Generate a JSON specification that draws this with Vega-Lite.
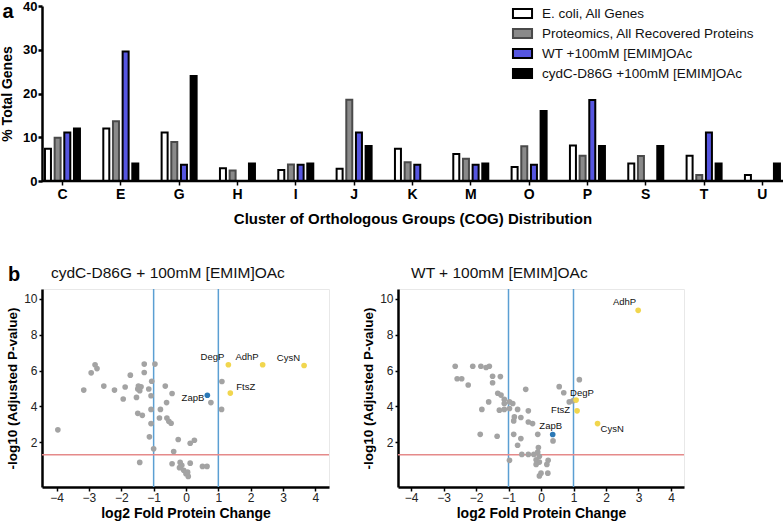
{
  "$schema": "https://vega.github.io/schema/vega-lite/v6.json",
  "padding": {"left": 0, "top": 0, "right": 0, "bottom": 0},
  "background": "white",
  "config": {
    "font": "Liberation Sans",
    "axis": {"grid": false},
    "axisQuantitative": {"labelOverlap": false},
    "view": {"stroke": null}
  },
  "datasets": {
    "cog": [
      {"cog": "C", "series": "E. coli, All Genes", "pct": 7.35},
      {"cog": "C", "series": "Proteomics, All Recovered Proteins", "pct": 9.9},
      {"cog": "C", "series": "WT +100mM [EMIM]OAc", "pct": 11.1},
      {"cog": "C", "series": "cydC-D86G +100mM [EMIM]OAc", "pct": 12},
      {"cog": "E", "series": "E. coli, All Genes", "pct": 12.0},
      {"cog": "E", "series": "Proteomics, All Recovered Proteins", "pct": 13.65},
      {"cog": "E", "series": "WT +100mM [EMIM]OAc", "pct": 29.6},
      {"cog": "E", "series": "cydC-D86G +100mM [EMIM]OAc", "pct": 4},
      {"cog": "G", "series": "E. coli, All Genes", "pct": 11.1},
      {"cog": "G", "series": "Proteomics, All Recovered Proteins", "pct": 8.9},
      {"cog": "G", "series": "WT +100mM [EMIM]OAc", "pct": 3.7},
      {"cog": "G", "series": "cydC-D86G +100mM [EMIM]OAc", "pct": 24},
      {"cog": "H", "series": "E. coli, All Genes", "pct": 2.9},
      {"cog": "H", "series": "Proteomics, All Recovered Proteins", "pct": 2.4},
      {"cog": "H", "series": "cydC-D86G +100mM [EMIM]OAc", "pct": 4},
      {"cog": "I", "series": "E. coli, All Genes", "pct": 2.5},
      {"cog": "I", "series": "Proteomics, All Recovered Proteins", "pct": 3.8},
      {"cog": "I", "series": "WT +100mM [EMIM]OAc", "pct": 3.7},
      {"cog": "I", "series": "cydC-D86G +100mM [EMIM]OAc", "pct": 4},
      {"cog": "J", "series": "E. coli, All Genes", "pct": 2.8},
      {"cog": "J", "series": "Proteomics, All Recovered Proteins", "pct": 18.6},
      {"cog": "J", "series": "WT +100mM [EMIM]OAc", "pct": 11.1},
      {"cog": "J", "series": "cydC-D86G +100mM [EMIM]OAc", "pct": 8},
      {"cog": "K", "series": "E. coli, All Genes", "pct": 7.35},
      {"cog": "K", "series": "Proteomics, All Recovered Proteins", "pct": 4.3},
      {"cog": "K", "series": "WT +100mM [EMIM]OAc", "pct": 3.7},
      {"cog": "M", "series": "E. coli, All Genes", "pct": 6.2},
      {"cog": "M", "series": "Proteomics, All Recovered Proteins", "pct": 5.1},
      {"cog": "M", "series": "WT +100mM [EMIM]OAc", "pct": 3.7},
      {"cog": "M", "series": "cydC-D86G +100mM [EMIM]OAc", "pct": 4},
      {"cog": "O", "series": "E. coli, All Genes", "pct": 3.2},
      {"cog": "O", "series": "Proteomics, All Recovered Proteins", "pct": 7.95},
      {"cog": "O", "series": "WT +100mM [EMIM]OAc", "pct": 3.7},
      {"cog": "O", "series": "cydC-D86G +100mM [EMIM]OAc", "pct": 16},
      {"cog": "P", "series": "E. coli, All Genes", "pct": 8.1},
      {"cog": "P", "series": "Proteomics, All Recovered Proteins", "pct": 5.8},
      {"cog": "P", "series": "WT +100mM [EMIM]OAc", "pct": 18.5},
      {"cog": "P", "series": "cydC-D86G +100mM [EMIM]OAc", "pct": 8},
      {"cog": "S", "series": "E. coli, All Genes", "pct": 4.0},
      {"cog": "S", "series": "Proteomics, All Recovered Proteins", "pct": 5.7},
      {"cog": "S", "series": "cydC-D86G +100mM [EMIM]OAc", "pct": 8},
      {"cog": "T", "series": "E. coli, All Genes", "pct": 5.8},
      {"cog": "T", "series": "Proteomics, All Recovered Proteins", "pct": 1.4},
      {"cog": "T", "series": "WT +100mM [EMIM]OAc", "pct": 11.1},
      {"cog": "T", "series": "cydC-D86G +100mM [EMIM]OAc", "pct": 4},
      {"cog": "U", "series": "E. coli, All Genes", "pct": 1.4},
      {"cog": "U", "series": "cydC-D86G +100mM [EMIM]OAc", "pct": 4}
    ],
    "volcano": [
      {"panel": "cydC", "group": "other", "lfc": -2.81, "nlp": 6.32},
      {"panel": "cydC", "group": "other", "lfc": -2.75, "nlp": 6.11},
      {"panel": "cydC", "group": "other", "lfc": -2.93, "nlp": 5.87},
      {"panel": "cydC", "group": "other", "lfc": -1.29, "nlp": 6.36},
      {"panel": "cydC", "group": "other", "lfc": -0.96, "nlp": 6.36},
      {"panel": "cydC", "group": "other", "lfc": -1.72, "nlp": 5.74},
      {"panel": "cydC", "group": "other", "lfc": -1.29, "nlp": 5.89},
      {"panel": "cydC", "group": "other", "lfc": -1.06, "nlp": 5.4},
      {"panel": "cydC", "group": "other", "lfc": -3.16, "nlp": 4.91},
      {"panel": "cydC", "group": "other", "lfc": -2.54, "nlp": 5.13},
      {"panel": "cydC", "group": "other", "lfc": -2.21, "nlp": 4.91},
      {"panel": "cydC", "group": "other", "lfc": -1.88, "nlp": 5.08},
      {"panel": "cydC", "group": "other", "lfc": -1.47, "nlp": 5.13},
      {"panel": "cydC", "group": "other", "lfc": -1.39, "nlp": 5.09},
      {"panel": "cydC", "group": "other", "lfc": -1.49, "nlp": 4.97},
      {"panel": "cydC", "group": "other", "lfc": -1.43, "nlp": 4.87},
      {"panel": "cydC", "group": "other", "lfc": -1.15, "nlp": 4.97},
      {"panel": "cydC", "group": "other", "lfc": -1.08, "nlp": 4.59},
      {"panel": "cydC", "group": "other", "lfc": -1.94, "nlp": 4.41},
      {"panel": "cydC", "group": "other", "lfc": -1.53, "nlp": 4.5},
      {"panel": "cydC", "group": "other", "lfc": -0.64, "nlp": 5.13},
      {"panel": "cydC", "group": "other", "lfc": -0.43, "nlp": 4.72},
      {"panel": "cydC", "group": "other", "lfc": -0.6, "nlp": 4.21},
      {"panel": "cydC", "group": "other", "lfc": 0.77, "nlp": 4.21},
      {"panel": "cydC", "group": "other", "lfc": 1.11, "nlp": 5.39},
      {"panel": "cydC", "group": "other", "lfc": 1.1, "nlp": 3.83},
      {"panel": "cydC", "group": "other", "lfc": -1.49, "nlp": 3.61},
      {"panel": "cydC", "group": "other", "lfc": -1.35, "nlp": 3.5},
      {"panel": "cydC", "group": "other", "lfc": -1.08, "nlp": 3.83},
      {"panel": "cydC", "group": "other", "lfc": -0.79, "nlp": 3.83},
      {"panel": "cydC", "group": "other", "lfc": -0.82, "nlp": 3.35},
      {"panel": "cydC", "group": "other", "lfc": -0.59, "nlp": 3.35},
      {"panel": "cydC", "group": "other", "lfc": -0.53, "nlp": 3.17},
      {"panel": "cydC", "group": "other", "lfc": -0.46, "nlp": 3.06},
      {"panel": "cydC", "group": "other", "lfc": -1.08, "nlp": 3.04},
      {"panel": "cydC", "group": "other", "lfc": -3.96, "nlp": 2.69},
      {"panel": "cydC", "group": "other", "lfc": -1.13, "nlp": 2.3},
      {"panel": "cydC", "group": "other", "lfc": -0.24, "nlp": 2.15},
      {"panel": "cydC", "group": "other", "lfc": 0.13, "nlp": 1.94},
      {"panel": "cydC", "group": "other", "lfc": 0.26, "nlp": 2.11},
      {"panel": "cydC", "group": "other", "lfc": -1.0, "nlp": 1.63},
      {"panel": "cydC", "group": "other", "lfc": -0.38, "nlp": 1.48},
      {"panel": "cydC", "group": "other", "lfc": -1.43, "nlp": 0.87},
      {"panel": "cydC", "group": "other", "lfc": -0.43, "nlp": 0.8},
      {"panel": "cydC", "group": "other", "lfc": -0.18, "nlp": 0.87},
      {"panel": "cydC", "group": "other", "lfc": -0.13, "nlp": 0.71},
      {"panel": "cydC", "group": "other", "lfc": -0.2, "nlp": 0.58},
      {"panel": "cydC", "group": "other", "lfc": -0.07, "nlp": 0.43},
      {"panel": "cydC", "group": "other", "lfc": 0.0, "nlp": 0.24},
      {"panel": "cydC", "group": "other", "lfc": 0.07, "nlp": 0.09},
      {"panel": "cydC", "group": "other", "lfc": 0.05, "nlp": 0.33},
      {"panel": "cydC", "group": "other", "lfc": 0.13, "nlp": 0.83},
      {"panel": "cydC", "group": "other", "lfc": 0.51, "nlp": 0.65},
      {"panel": "cydC", "group": "other", "lfc": 0.65, "nlp": 0.65},
      {"panel": "cydC", "group": "highlight", "protein": "DegP", "lfc": 1.31, "nlp": 6.32},
      {"panel": "cydC", "group": "highlight", "protein": "AdhP", "lfc": 2.37, "nlp": 6.32},
      {"panel": "cydC", "group": "highlight", "protein": "CysN", "lfc": 3.65, "nlp": 6.28},
      {"panel": "cydC", "group": "highlight", "protein": "FtsZ", "lfc": 1.37, "nlp": 4.74},
      {"panel": "cydC", "group": "reference", "protein": "ZapB", "lfc": 0.66, "nlp": 4.62},
      {"panel": "WT", "group": "other", "lfc": -2.64, "nlp": 6.24},
      {"panel": "WT", "group": "other", "lfc": -2.1, "nlp": 6.24},
      {"panel": "WT", "group": "other", "lfc": -1.85, "nlp": 6.24},
      {"panel": "WT", "group": "other", "lfc": -1.69, "nlp": 6.17},
      {"panel": "WT", "group": "other", "lfc": -1.59, "nlp": 6.24},
      {"panel": "WT", "group": "other", "lfc": -2.58, "nlp": 5.54},
      {"panel": "WT", "group": "other", "lfc": -2.44, "nlp": 5.54},
      {"panel": "WT", "group": "other", "lfc": -2.24, "nlp": 5.19},
      {"panel": "WT", "group": "other", "lfc": -1.49, "nlp": 5.68},
      {"panel": "WT", "group": "other", "lfc": -1.25, "nlp": 5.66},
      {"panel": "WT", "group": "other", "lfc": -1.49, "nlp": 5.32},
      {"panel": "WT", "group": "other", "lfc": -0.47, "nlp": 4.95},
      {"panel": "WT", "group": "other", "lfc": -1.33, "nlp": 4.73},
      {"panel": "WT", "group": "other", "lfc": -1.23, "nlp": 4.63},
      {"panel": "WT", "group": "other", "lfc": -1.13, "nlp": 4.39},
      {"panel": "WT", "group": "other", "lfc": -1.61, "nlp": 4.25},
      {"panel": "WT", "group": "other", "lfc": -1.13, "nlp": 4.16},
      {"panel": "WT", "group": "other", "lfc": -0.97, "nlp": 4.25},
      {"panel": "WT", "group": "other", "lfc": -0.87, "nlp": 4.16},
      {"panel": "WT", "group": "other", "lfc": -1.28, "nlp": 3.79},
      {"panel": "WT", "group": "other", "lfc": -1.13, "nlp": 3.83},
      {"panel": "WT", "group": "other", "lfc": -0.97, "nlp": 3.88},
      {"panel": "WT", "group": "other", "lfc": -0.72, "nlp": 3.83},
      {"panel": "WT", "group": "other", "lfc": -0.39, "nlp": 3.75},
      {"panel": "WT", "group": "other", "lfc": -1.82, "nlp": 3.83},
      {"panel": "WT", "group": "other", "lfc": -0.82, "nlp": 3.41},
      {"panel": "WT", "group": "other", "lfc": -0.62, "nlp": 3.38},
      {"panel": "WT", "group": "other", "lfc": -0.84, "nlp": 3.19},
      {"panel": "WT", "group": "other", "lfc": -0.39, "nlp": 3.13},
      {"panel": "WT", "group": "other", "lfc": -0.26, "nlp": 3.04},
      {"panel": "WT", "group": "other", "lfc": 0.56, "nlp": 5.1},
      {"panel": "WT", "group": "other", "lfc": 0.7, "nlp": 4.76},
      {"panel": "WT", "group": "other", "lfc": 1.18, "nlp": 5.49},
      {"panel": "WT", "group": "other", "lfc": 0.87, "nlp": 4.25},
      {"panel": "WT", "group": "other", "lfc": 0.98, "nlp": 4.31},
      {"panel": "WT", "group": "other", "lfc": -1.87, "nlp": 2.44},
      {"panel": "WT", "group": "other", "lfc": -1.35, "nlp": 2.33},
      {"panel": "WT", "group": "other", "lfc": -0.84, "nlp": 2.44},
      {"panel": "WT", "group": "other", "lfc": -0.62, "nlp": 2.2},
      {"panel": "WT", "group": "other", "lfc": -0.72, "nlp": 1.83},
      {"panel": "WT", "group": "other", "lfc": -0.1, "nlp": 2.44},
      {"panel": "WT", "group": "other", "lfc": -0.08, "nlp": 1.7},
      {"panel": "WT", "group": "other", "lfc": -0.59, "nlp": 1.32},
      {"panel": "WT", "group": "other", "lfc": -0.39, "nlp": 1.32},
      {"panel": "WT", "group": "other", "lfc": -0.22, "nlp": 1.32},
      {"panel": "WT", "group": "other", "lfc": -0.1, "nlp": 1.45},
      {"panel": "WT", "group": "other", "lfc": -0.05, "nlp": 1.21},
      {"panel": "WT", "group": "other", "lfc": -0.97, "nlp": 0.99},
      {"panel": "WT", "group": "other", "lfc": -0.15, "nlp": 1.02},
      {"panel": "WT", "group": "other", "lfc": -0.05, "nlp": 0.89},
      {"panel": "WT", "group": "other", "lfc": -0.15, "nlp": 0.76},
      {"panel": "WT", "group": "other", "lfc": 0.22, "nlp": 0.99},
      {"panel": "WT", "group": "other", "lfc": 0.18, "nlp": 0.76},
      {"panel": "WT", "group": "other", "lfc": 0.0, "nlp": 0.27},
      {"panel": "WT", "group": "other", "lfc": 0.21, "nlp": 0.27},
      {"panel": "WT", "group": "other", "lfc": 0.37, "nlp": 2.07},
      {"panel": "WT", "group": "other", "lfc": -0.05, "nlp": 0.12},
      {"panel": "WT", "group": "highlight", "protein": "AdhP", "lfc": 2.99, "nlp": 9.36},
      {"panel": "WT", "group": "highlight", "protein": "DegP", "lfc": 1.08, "nlp": 4.35},
      {"panel": "WT", "group": "highlight", "protein": "FtsZ", "lfc": 1.11, "nlp": 3.75},
      {"panel": "WT", "group": "highlight", "protein": "CysN", "lfc": 1.74, "nlp": 3.04},
      {"panel": "WT", "group": "reference", "protein": "ZapB", "lfc": 0.36, "nlp": 2.43}
    ],
    "lfcCut": [{"lfc": -1}, {"lfc": 1}],
    "pCut": [{"nlp": 1.3}]
  },
  "bounds": "flush",
  "spacing": 108,
  "vconcat": [
    {
      "width": 741,
      "height": 175,
      "title": {"text": "a", "orient": "left", "anchor": "end", "angle": 0, "align": "left", "baseline": "top", "fontSize": 20, "fontWeight": "bold", "offset": -13, "dy": 2, "color": "black"},
      "data": {"name": "cog"},
      "layer": [
        {
          "mark": {"type": "bar", "strokeWidth": 2},
          "encoding": {
            "x": {
              "field": "cog", "type": "nominal", "sort": null,
              "scale": {"range": [-8.7, 749.6], "paddingInner": 0.4, "paddingOuter": 0.2},
              "axis": {"title": "Cluster of Orthologous Groups (COG) Distribution", "labelAngle": 0, "domain": false, "ticks": true, "tickSize": 4, "tickWidth": 1.5, "tickColor": "black", "labelFontSize": 14, "labelFontWeight": "bold", "labelColor": "black", "labelPadding": 2, "titleFontSize": 15, "titleFontWeight": "bold", "titleColor": "black", "titlePadding": 10}
            },
            "xOffset": {
              "field": "series", "type": "nominal",
              "sort": ["E. coli, All Genes", "Proteomics, All Recovered Proteins", "WT +100mM [EMIM]OAc", "cydC-D86G +100mM [EMIM]OAc"],
              "scale": {"paddingInner": 0.38, "paddingOuter": 0}
            },
            "y": {
              "field": "pct", "type": "quantitative",
              "scale": {"domain": [0, 40], "nice": false},
              "axis": {"title": "% Total Genes", "values": [0, 10, 20, 30, 40], "domainColor": "black", "domainWidth": 2.5, "tickColor": "black", "tickWidth": 2.5, "tickSize": 4, "labelPadding": 1, "labelFontSize": 13, "labelFontWeight": "bold", "labelColor": "black", "titleFontSize": 14, "titleFontWeight": "bold", "titleColor": "black", "titlePadding": 8}
            },
            "fill": {
              "field": "series", "type": "nominal",
              "scale": {"domain": ["E. coli, All Genes", "Proteomics, All Recovered Proteins", "WT +100mM [EMIM]OAc", "cydC-D86G +100mM [EMIM]OAc"], "range": ["#ffffff", "#8a8a8a", "#5656e0", "#000000"]},
              "legend": {"title": null, "orient": "none", "legendX": 470, "legendY": -3, "padding": 0, "symbolType": "M-1.05,-0.5L1.05,-0.5L1.05,0.5L-1.05,0.5Z", "symbolSize": 330, "symbolStrokeWidth": 2, "labelFontSize": 13.5, "labelColor": "#111", "labelOffset": 9, "labelLimit": 0, "rowPadding": 0}
            },
            "stroke": {
              "field": "series", "type": "nominal",
              "scale": {"domain": ["E. coli, All Genes", "Proteomics, All Recovered Proteins", "WT +100mM [EMIM]OAc", "cydC-D86G +100mM [EMIM]OAc"], "range": ["#000000", "#4a4a4a", "#000000", "#000000"]},
              "legend": {"title": null, "orient": "none", "legendX": 470, "legendY": -3, "padding": 0, "symbolType": "M-1.05,-0.5L1.05,-0.5L1.05,0.5L-1.05,0.5Z", "symbolSize": 330, "symbolStrokeWidth": 2, "labelFontSize": 13.5, "labelColor": "#111", "labelOffset": 9, "labelLimit": 0, "rowPadding": 0}
            }
          }
        },
        {
          "data": {"values": [{}]},
          "mark": {"type": "rule", "color": "black", "strokeWidth": 2.5},
          "encoding": {"y": {"datum": 0}}
        }
      ]
    },
    {
      "bounds": "flush",
      "spacing": 69,
      "title": {"text": "b", "orient": "left", "anchor": "end", "angle": 0, "align": "left", "baseline": "top", "fontSize": 20, "fontWeight": "bold", "offset": -15, "color": "black"},
      "hconcat": [
        {
          "width": 287,
          "height": 198,
          "view": {"stroke": "#e8e8e8"},
          "title": {"text": "cydC-D86G + 100mM [EMIM]OAc", "anchor": "start", "frame": "group", "dx": 9, "offset": 7, "fontSize": 15.5, "fontWeight": "normal", "color": "#111"},
          "layer": [
            {
              "data": {"name": "lfcCut"},
              "mark": {"type": "rule", "color": "#5b9fd3", "strokeWidth": 1.5},
              "encoding": {"x": {"field": "lfc", "type": "quantitative", "axis": {"values": [-4, -3, -2, -1, 0, 1, 2, 3, 4], "labelOverlap": false, "tickCount": 9}}}
            },
            {
              "data": {"name": "pCut"},
              "mark": {"type": "rule", "color": "#e58a8a", "strokeWidth": 1.5},
              "encoding": {"y": {"field": "nlp", "type": "quantitative"}}
            },
            {
              "data": {"name": "volcano"},
              "transform": [{"filter": "datum.panel === 'cydC'"}],
              "mark": {"type": "circle", "size": 32, "opacity": 1},
              "encoding": {
                "x": {"field": "lfc", "type": "quantitative", "scale": {"domain": [-4.45, 4.42], "nice": false, "zero": false},
                  "axis": {"title": "log2 Fold Protein Change", "values": [-4, -3, -2, -1, 0, 1, 2, 3, 4], "tickCount": 9, "labelOverlap": false, "domainColor": "black", "domainWidth": 2.5, "tickColor": "black", "tickWidth": 1.5, "tickSize": 4, "labelFontSize": 12, "labelColor": "#222", "labelPadding": 1, "labelFlush": false, "titleFontSize": 14, "titleFontWeight": "bold", "titleColor": "black", "titlePadding": 3}},
                "y": {"field": "nlp", "type": "quantitative", "scale": {"domain": [-0.5, 10.55], "nice": false, "zero": false},
                  "axis": {"title": "-log10 (Adjusted P-value)", "values": [2, 4, 6, 8, 10], "labelOverlap": false, "domainColor": "black", "domainWidth": 2.5, "tickColor": "black", "tickWidth": 1.5, "tickSize": 3, "labelFontSize": 12, "labelColor": "#222", "labelPadding": 2, "labelFlush": false, "titleFontSize": 13.5, "titleFontWeight": "bold", "titleColor": "black", "titlePadding": 4}},
                "color": {"field": "group", "type": "nominal", "scale": {"domain": ["other", "highlight", "reference"], "range": ["#a3a3a3", "#f1d64e", "#2a78b6"]}, "legend": null}
              }
            },
            {
              "data": {"name": "volcano"},
              "transform": [{"filter": "datum.panel === 'cydC' && (datum.protein === 'DegP' || datum.protein === 'AdhP' || datum.protein === 'CysN')"}],
              "mark": {"type": "text", "align": "right", "baseline": "middle", "dx": -4, "dy": -8, "fontSize": 9.5, "color": "#111"},
              "encoding": {"x": {"field": "lfc", "type": "quantitative"}, "y": {"field": "nlp", "type": "quantitative"}, "text": {"field": "protein"}}
            },
            {
              "data": {"name": "volcano"},
              "transform": [{"filter": "datum.panel === 'cydC' && datum.protein === 'FtsZ'"}],
              "mark": {"type": "text", "align": "left", "baseline": "middle", "dx": 6, "dy": -6, "fontSize": 9.5, "color": "#111"},
              "encoding": {"x": {"field": "lfc", "type": "quantitative"}, "y": {"field": "nlp", "type": "quantitative"}, "text": {"field": "protein"}}
            },
            {
              "data": {"name": "volcano"},
              "transform": [{"filter": "datum.panel === 'cydC' && datum.protein === 'ZapB'"}],
              "mark": {"type": "text", "align": "right", "baseline": "middle", "dx": -3, "dy": 3, "fontSize": 9.5, "color": "#111"},
              "encoding": {"x": {"field": "lfc", "type": "quantitative"}, "y": {"field": "nlp", "type": "quantitative"}, "text": {"field": "protein"}}
            }
          ]
        },
        {
          "width": 286,
          "height": 198,
          "view": {"stroke": "#e8e8e8"},
          "title": {"text": "WT + 100mM [EMIM]OAc", "anchor": "start", "frame": "group", "dx": 13, "offset": 7, "fontSize": 15.5, "fontWeight": "normal", "color": "#111"},
          "layer": [
            {
              "data": {"name": "lfcCut"},
              "mark": {"type": "rule", "color": "#5b9fd3", "strokeWidth": 1.5},
              "encoding": {"x": {"field": "lfc", "type": "quantitative", "axis": {"values": [-4, -3, -2, -1, 0, 1, 2, 3, 4], "labelOverlap": false, "tickCount": 9}}}
            },
            {
              "data": {"name": "pCut"},
              "mark": {"type": "rule", "color": "#e58a8a", "strokeWidth": 1.5},
              "encoding": {"y": {"field": "nlp", "type": "quantitative"}}
            },
            {
              "data": {"name": "volcano"},
              "transform": [{"filter": "datum.panel === 'WT'"}],
              "mark": {"type": "circle", "size": 32, "opacity": 1},
              "encoding": {
                "x": {"field": "lfc", "type": "quantitative", "scale": {"domain": [-4.4, 4.4], "nice": false, "zero": false},
                  "axis": {"title": "log2 Fold Protein Change", "values": [-4, -3, -2, -1, 0, 1, 2, 3, 4], "tickCount": 9, "labelOverlap": false, "domainColor": "black", "domainWidth": 2.5, "tickColor": "black", "tickWidth": 1.5, "tickSize": 4, "labelFontSize": 12, "labelColor": "#222", "labelPadding": 1, "labelFlush": false, "titleFontSize": 14, "titleFontWeight": "bold", "titleColor": "black", "titlePadding": 3}},
                "y": {"field": "nlp", "type": "quantitative", "scale": {"domain": [-0.5, 10.55], "nice": false, "zero": false},
                  "axis": {"title": "-log10 (Adjusted P-value)", "values": [2, 4, 6, 8, 10], "labelOverlap": false, "domainColor": "black", "domainWidth": 2.5, "tickColor": "black", "tickWidth": 1.5, "tickSize": 3, "labelFontSize": 12, "labelColor": "#222", "labelPadding": 2, "labelFlush": false, "titleFontSize": 13.5, "titleFontWeight": "bold", "titleColor": "black", "titlePadding": 4}},
                "color": {"field": "group", "type": "nominal", "scale": {"domain": ["other", "highlight", "reference"], "range": ["#a3a3a3", "#f1d64e", "#2a78b6"]}, "legend": null}
              }
            },
            {
              "data": {"name": "volcano"},
              "transform": [{"filter": "datum.panel === 'WT' && datum.protein === 'AdhP'"}],
              "mark": {"type": "text", "align": "right", "baseline": "middle", "dx": -2, "dy": -8, "fontSize": 9.5, "color": "#111"},
              "encoding": {"x": {"field": "lfc", "type": "quantitative"}, "y": {"field": "nlp", "type": "quantitative"}, "text": {"field": "protein"}}
            },
            {
              "data": {"name": "volcano"},
              "transform": [{"filter": "datum.panel === 'WT' && datum.protein === 'DegP'"}],
              "mark": {"type": "text", "align": "left", "baseline": "middle", "dx": -6, "dy": -7.5, "fontSize": 9.5, "color": "#111"},
              "encoding": {"x": {"field": "lfc", "type": "quantitative"}, "y": {"field": "nlp", "type": "quantitative"}, "text": {"field": "protein"}}
            },
            {
              "data": {"name": "volcano"},
              "transform": [{"filter": "datum.panel === 'WT' && datum.protein === 'FtsZ'"}],
              "mark": {"type": "text", "align": "right", "baseline": "middle", "dx": -7, "dy": -1, "fontSize": 9.5, "color": "#111"},
              "encoding": {"x": {"field": "lfc", "type": "quantitative"}, "y": {"field": "nlp", "type": "quantitative"}, "text": {"field": "protein"}}
            },
            {
              "data": {"name": "volcano"},
              "transform": [{"filter": "datum.panel === 'WT' && datum.protein === 'ZapB'"}],
              "mark": {"type": "text", "align": "center", "baseline": "middle", "dx": -2, "dy": -8.5, "fontSize": 9.5, "color": "#111"},
              "encoding": {"x": {"field": "lfc", "type": "quantitative"}, "y": {"field": "nlp", "type": "quantitative"}, "text": {"field": "protein"}}
            },
            {
              "data": {"name": "volcano"},
              "transform": [{"filter": "datum.panel === 'WT' && datum.protein === 'CysN'"}],
              "mark": {"type": "text", "align": "left", "baseline": "middle", "dx": 3, "dy": 5, "fontSize": 9.5, "color": "#111"},
              "encoding": {"x": {"field": "lfc", "type": "quantitative"}, "y": {"field": "nlp", "type": "quantitative"}, "text": {"field": "protein"}}
            }
          ]
        }
      ]
    }
  ]
}
